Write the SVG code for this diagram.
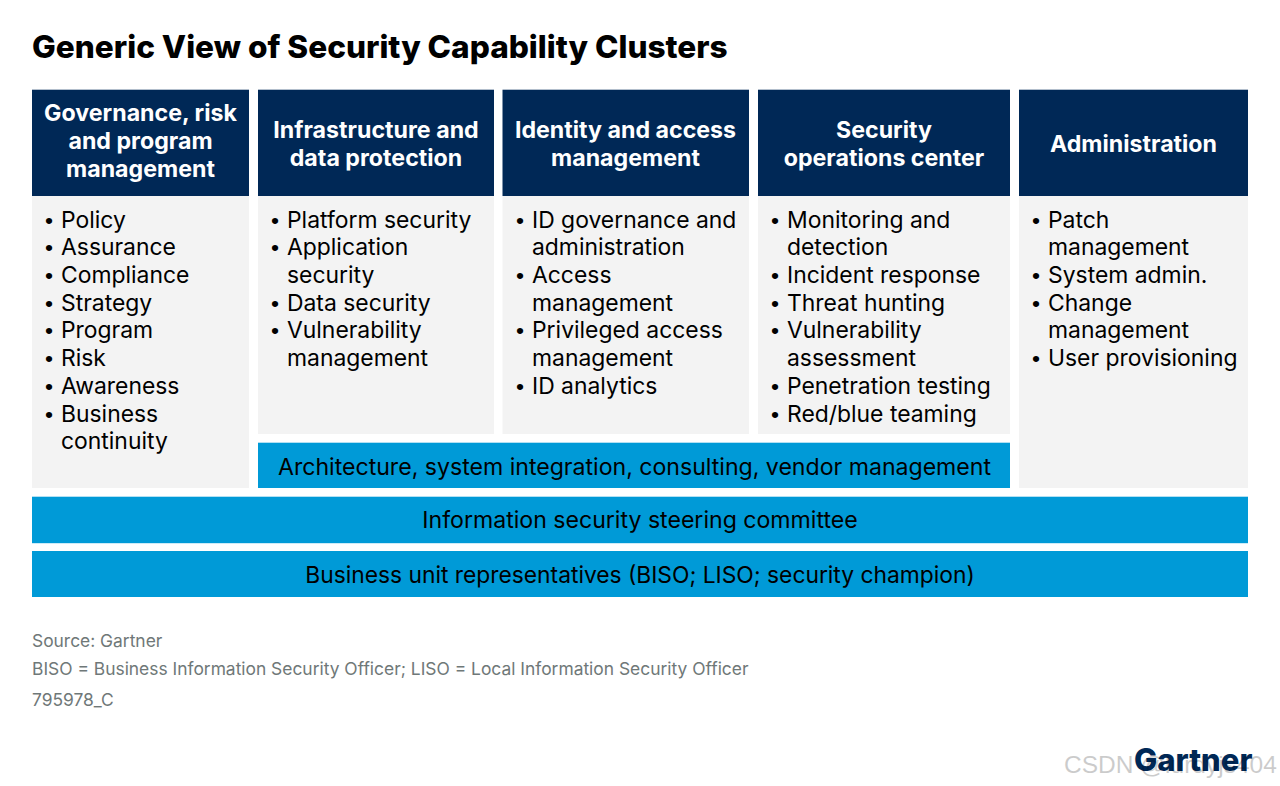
<svg xmlns="http://www.w3.org/2000/svg" width="1280" height="786" viewBox="0 0 1280 786">
<style>
text{font-family:Inter,"Liberation Sans",sans-serif}
.t{font-size:31.6px;font-weight:800;fill:#000}
.hb{fill:#002856}.bb{fill:#f3f3f3}.cb{fill:#009ad7}
.h{font-size:23.2px;font-weight:700;fill:#fff;text-anchor:middle}
.b{font-size:22.9px;fill:#000}
.d{font-family:"Liberation Sans",sans-serif}
.c{font-size:23.1px;fill:#000;text-anchor:middle}
.f{font-size:17.4px;fill:#6f7878}
.w{font-size:24.500px;fill:#000;opacity:.2;font-family:"Liberation Sans",sans-serif}
.g{font-size:31px;font-weight:800;fill:#002856}
</style>
<rect width="1280" height="786" fill="#fff"/>
<text class="t" x="32" y="58">Generic View of Security Capability Clusters</text>
<g id="col1"><rect class="hb" x="32" y="89.700" width="217" height="106.300"/><rect class="bb" x="32" y="196" width="217" height="292"/>
<text class="h"><tspan x="140.500" y="121">Governance, risk</tspan><tspan x="140.500" y="149">and program</tspan><tspan x="140.500" y="177">management</tspan></text>
<text class="b"><tspan class="d" x="45" y="228">•</tspan><tspan x="61" y="228">Policy</tspan><tspan class="d" x="45" y="255">•</tspan><tspan x="61" y="255">Assurance</tspan><tspan class="d" x="45" y="283">•</tspan><tspan x="61" y="283">Compliance</tspan><tspan class="d" x="45" y="311">•</tspan><tspan x="61" y="311">Strategy</tspan><tspan class="d" x="45" y="338">•</tspan><tspan x="61" y="338">Program</tspan><tspan class="d" x="45" y="366">•</tspan><tspan x="61" y="366">Risk</tspan><tspan class="d" x="45" y="394">•</tspan><tspan x="61" y="394">Awareness</tspan><tspan class="d" x="45" y="422">•</tspan><tspan x="61" y="422">Business</tspan><tspan x="61" y="449">continuity</tspan></text></g>
<g id="col2"><rect class="hb" x="258" y="89.700" width="236" height="106.300"/><rect class="bb" x="258" y="196" width="236" height="238"/>
<text class="h"><tspan x="376" y="138">Infrastructure and</tspan><tspan x="376" y="166">data protection</tspan></text>
<text class="b"><tspan class="d" x="271" y="228">•</tspan><tspan x="287" y="228">Platform security</tspan><tspan class="d" x="271" y="255">•</tspan><tspan x="287" y="255">Application</tspan><tspan x="287" y="283">security</tspan><tspan class="d" x="271" y="311">•</tspan><tspan x="287" y="311">Data security</tspan><tspan class="d" x="271" y="338">•</tspan><tspan x="287" y="338">Vulnerability</tspan><tspan x="287" y="366">management</tspan></text></g>
<g id="col3"><rect class="hb" x="502.500" y="89.700" width="246.500" height="106.300"/><rect class="bb" x="502.500" y="196" width="246.500" height="238"/>
<text class="h"><tspan x="625.500" y="138">Identity and access</tspan><tspan x="625.500" y="166">management</tspan></text>
<text class="b"><tspan class="d" x="516" y="228">•</tspan><tspan x="532" y="228">ID governance and</tspan><tspan x="532" y="255">administration</tspan><tspan class="d" x="516" y="283">•</tspan><tspan x="532" y="283">Access</tspan><tspan x="532" y="311">management</tspan><tspan class="d" x="516" y="338">•</tspan><tspan x="532" y="338">Privileged access</tspan><tspan x="532" y="366">management</tspan><tspan class="d" x="516" y="394">•</tspan><tspan x="532" y="394">ID analytics</tspan></text></g>
<g id="col4"><rect class="hb" x="758" y="89.700" width="252" height="106.300"/><rect class="bb" x="758" y="196" width="252" height="238"/>
<text class="h"><tspan x="884" y="138">Security</tspan><tspan x="884" y="166">operations center</tspan></text>
<text class="b"><tspan class="d" x="771" y="228">•</tspan><tspan x="787" y="228">Monitoring and</tspan><tspan x="787" y="255">detection</tspan><tspan class="d" x="771" y="283">•</tspan><tspan x="787" y="283">Incident response</tspan><tspan class="d" x="771" y="311">•</tspan><tspan x="787" y="311">Threat hunting</tspan><tspan class="d" x="771" y="338">•</tspan><tspan x="787" y="338">Vulnerability</tspan><tspan x="787" y="366">assessment</tspan><tspan class="d" x="771" y="394">•</tspan><tspan x="787" y="394">Penetration testing</tspan><tspan class="d" x="771" y="422">•</tspan><tspan x="787" y="422">Red/blue teaming</tspan></text></g>
<g id="col5"><rect class="hb" x="1019" y="89.700" width="229" height="106.300"/><rect class="bb" x="1019" y="196" width="229" height="292"/>
<text class="h" x="1133.500" y="152">Administration</text>
<text class="b"><tspan class="d" x="1032" y="228">•</tspan><tspan x="1048" y="228">Patch</tspan><tspan x="1048" y="255">management</tspan><tspan class="d" x="1032" y="283">•</tspan><tspan x="1048" y="283">System admin.</tspan><tspan class="d" x="1032" y="311">•</tspan><tspan x="1048" y="311">Change</tspan><tspan x="1048" y="338">management</tspan><tspan class="d" x="1032" y="366">•</tspan><tspan x="1048" y="366">User provisioning</tspan></text></g>
<g id="bar-architecture"><rect class="cb" x="258" y="442.700" width="752" height="45.300"/><text class="c" x="634.500" y="475">Architecture, system integration, consulting, vendor management</text></g>
<g id="bar-steering"><rect class="cb" x="32" y="496.700" width="1216" height="46.500"/><text class="c" x="640" y="528">Information security steering committee</text></g>
<g id="bar-business"><rect class="cb" x="32" y="551" width="1216" height="46"/><text class="c" x="640" y="583" style="font-size:22.8px">Business unit representatives (BISO; LISO; security champion)</text></g>
<g id="connectors"></g>
<g id="footer">
<text class="f" x="32" y="647">Source: Gartner</text>
<text class="f" x="32" y="675">BISO = Business Information Security Officer; LISO = Local Information Security Officer</text>
<text class="f" x="32" y="706">795978_C</text>
<text class="g" x="1134" y="771">Gartner</text>
<text class="w" x="1064" y="773">CSDN @lurdyjs404</text>
</g>
</svg>
